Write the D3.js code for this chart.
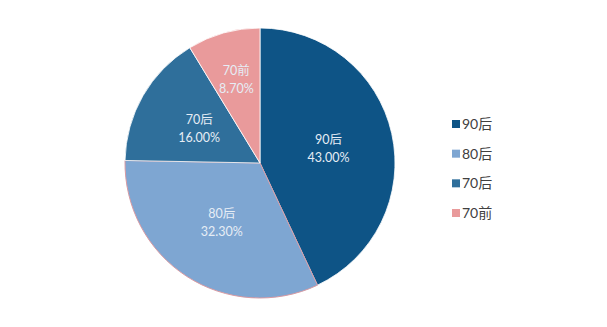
<!DOCTYPE html>
<html>
<head>
<meta charset="utf-8">
<script src="https://cdn.jsdelivr.net/npm/d3@7"></script>
<style>
  html, body { margin: 0; padding: 0; background: #ffffff; }
  svg { display: block; }
  text { font-family: "Lato", "Noto Sans CJK SC", sans-serif; }
</style>
</head>
<body>
<svg id="chart" width="607" height="327"></svg>
<script>
// Age-group shares
const categories = ["90后", "80后", "70后", "70前"];
const shares = [43.00, 32.30, 16.00, 8.70];
const colors = ["#0e5486", "#7ea6d2", "#2f6f9b", "#e99a9b"];

const W = 607, H = 327;
const cx = 260, cy = 163, radius = 135;

const svg = d3.select("#chart");

const data = categories.map((c, i) => ({ name: c, value: shares[i], color: colors[i] }));

const pie = d3.pie().value(d => d.value).sort(null);
const arcs = pie(data);
const arc = d3.arc().innerRadius(0).outerRadius(radius);

const g = svg.append("g").attr("transform", `translate(${cx},${cy})`);

g.selectAll("path.slice")
  .data(arcs)
  .join("path")
  .attr("class", "slice")
  .attr("d", arc)
  .attr("fill", d => d.data.color)
  .attr("stroke", d => d.data.name === "80后" ? "#d99aa2" : "#ffffff")
  .attr("stroke-width", d => d.data.name === "80后" ? 1 : 0.8)
  .attr("stroke-linejoin", "round");

// Labels sit inside each slice; the thin slice gets pushed further out
const labelArc = d => {
  const frac = d.data.value / 100;
  const r = radius * (frac < 0.1 ? 0.65 : 0.52);
  return d3.arc().innerRadius(r).outerRadius(r).centroid(d);
};

const labels = g.selectAll("g.label")
  .data(arcs)
  .join("g")
  .attr("class", "label")
  .attr("transform", d => `translate(${labelArc(d)})`);

labels.append("text")
  .attr("text-anchor", "middle")
  .attr("y", -4)
  .attr("font-size", 12.5)
  .attr("fill", "#e6edf5")
  .text(d => d.data.name);

labels.append("text")
  .attr("text-anchor", "middle")
  .attr("y", 14)
  .attr("font-size", 12.5)
  .attr("fill", "#e6edf5")
  .text(d => d3.format(".2f")(d.data.value) + "%");

// Legend
const legendY = d3.scalePoint().domain(categories).range([124, 213]);
const legend = svg.append("g");
const items = legend.selectAll("g")
  .data(data)
  .join("g")
  .attr("transform", d => `translate(452,${legendY(d.name)})`);

items.append("rect")
  .attr("x", 0).attr("y", -4)
  .attr("width", 8).attr("height", 8)
  .attr("fill", d => d.color);

items.append("text")
  .attr("x", 10)
  .attr("y", 0)
  .attr("dy", "0.35em")
  .attr("font-size", 14)
  .attr("fill", "#404040")
  .text(d => d.name);
</script>
</body>
</html>
